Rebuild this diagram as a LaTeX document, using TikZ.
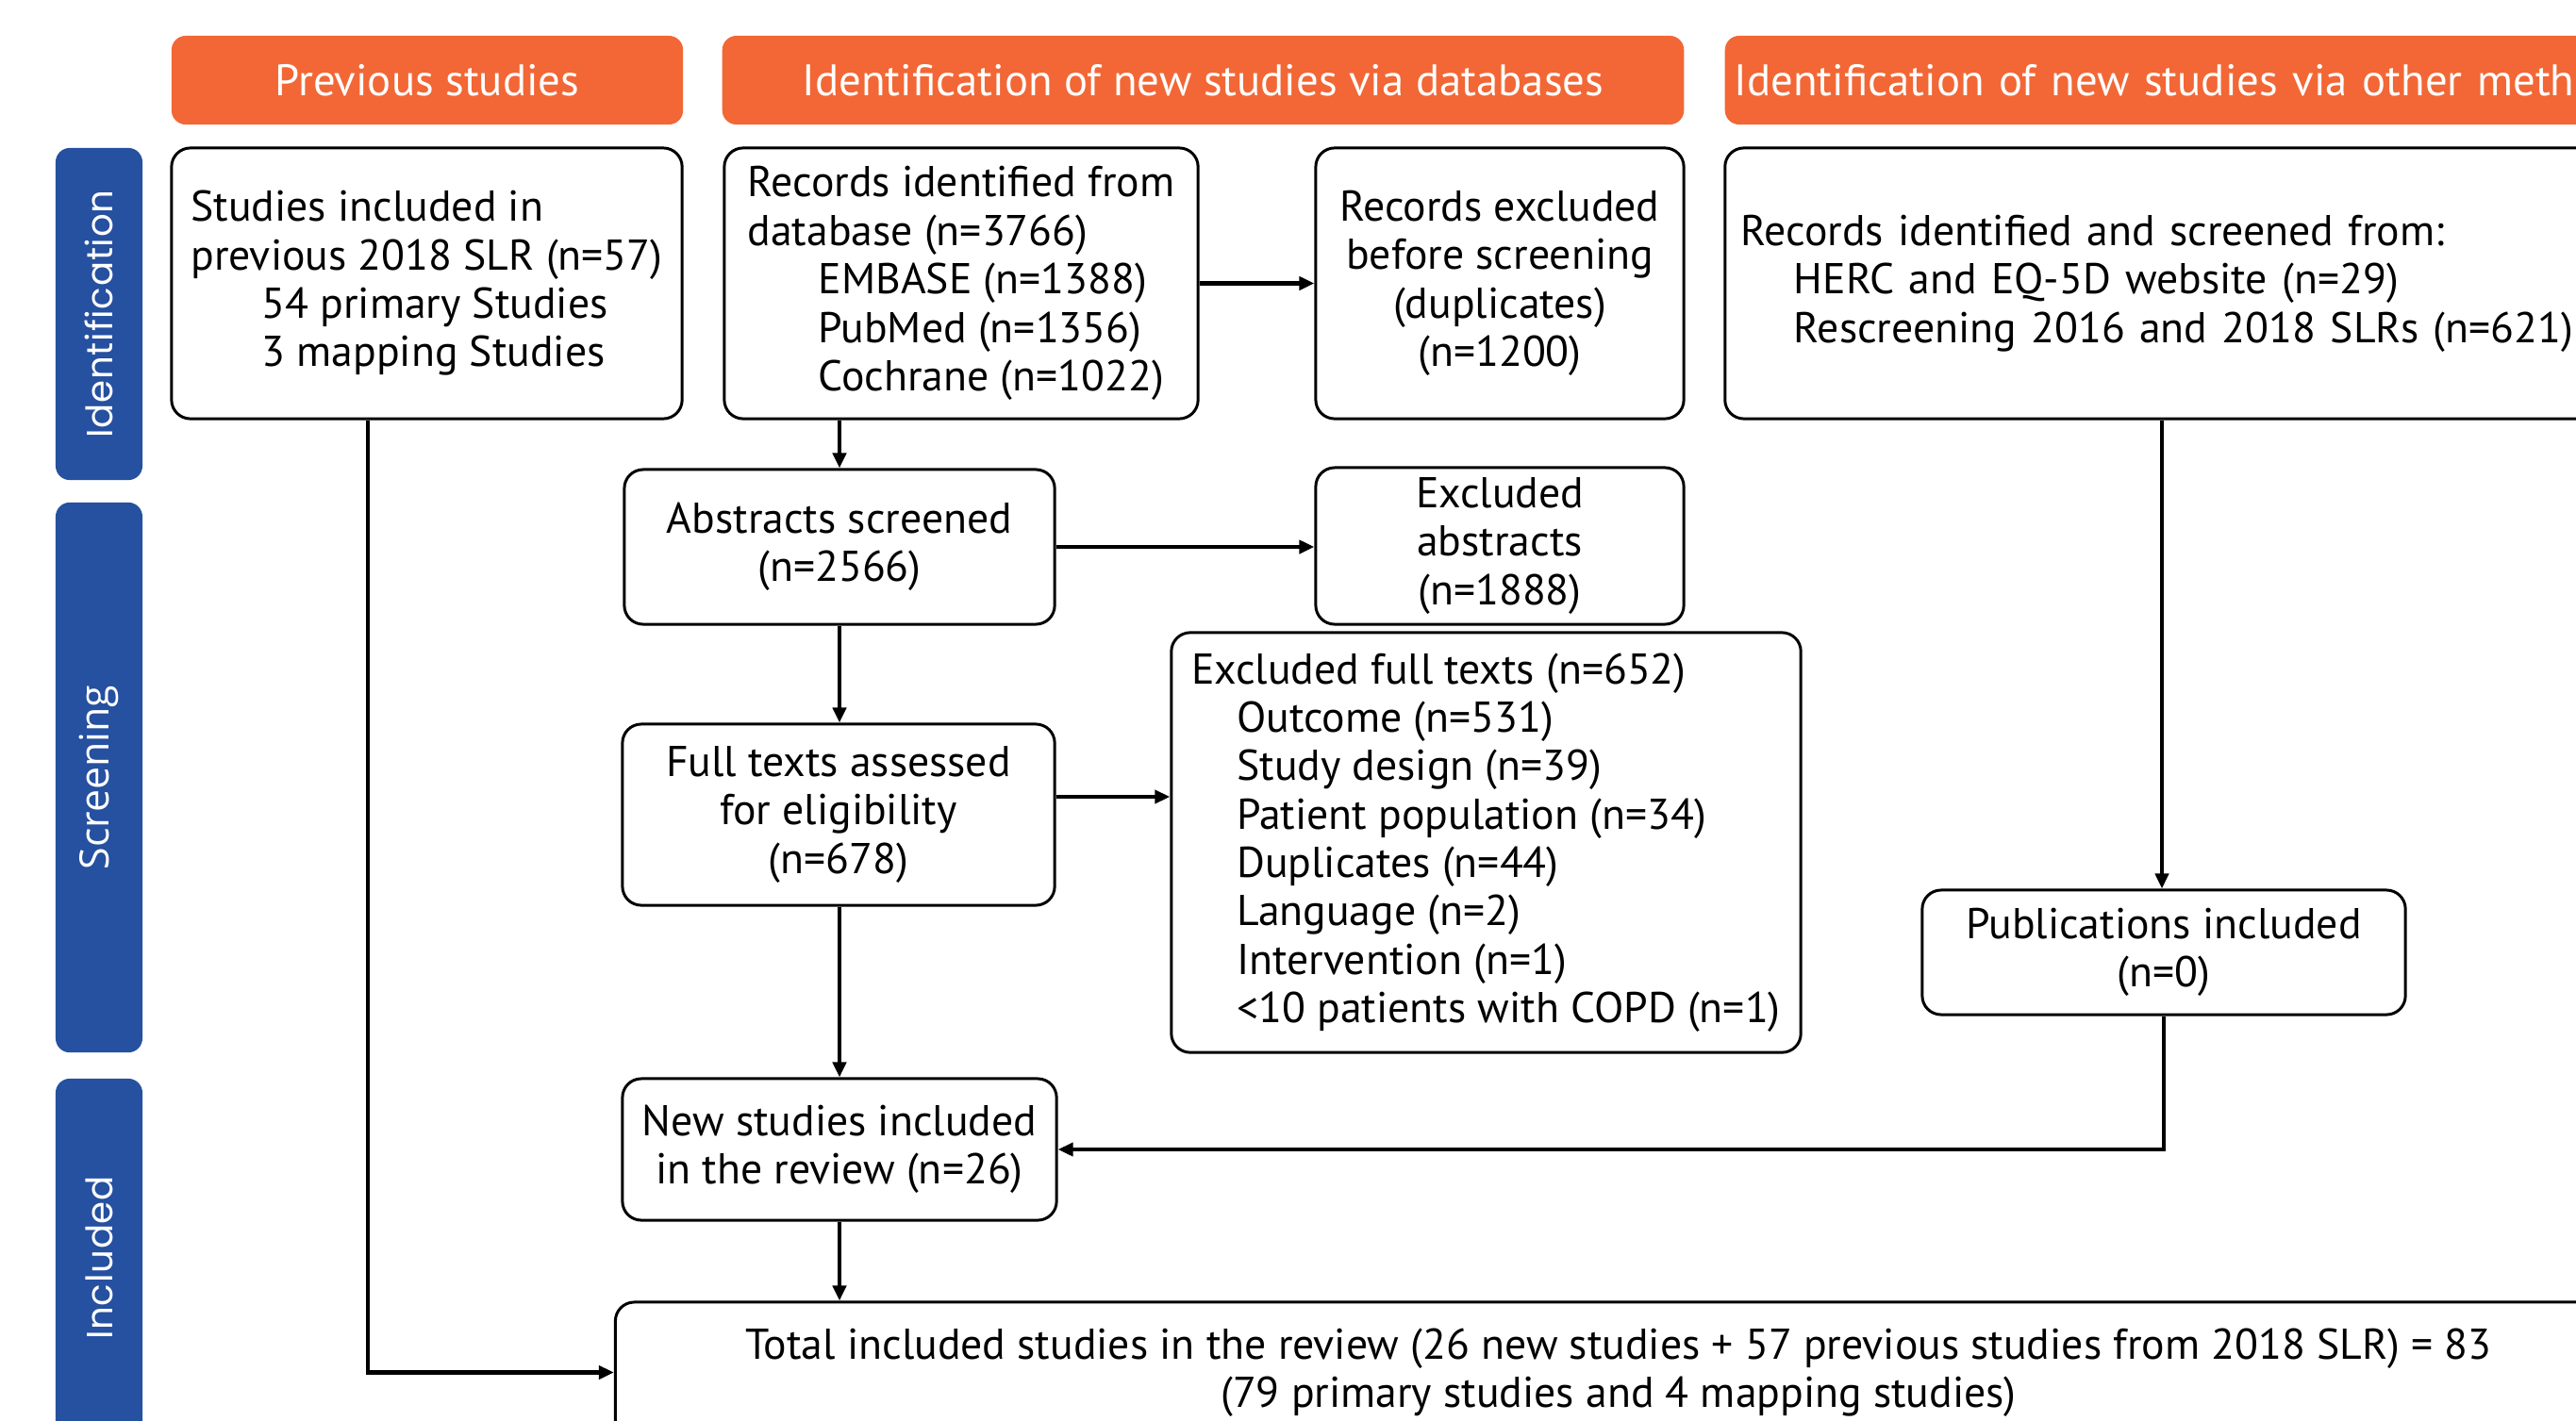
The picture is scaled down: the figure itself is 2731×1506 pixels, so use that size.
\documentclass[tikz,border=0pt]{standalone}
\usepackage{fontspec}
\setmainfont{PT Sans}
\newfontfamily\sidefont{Poppins}[LetterSpace=2]
\newfontfamily\scrfont{Open Sans}
\usetikzlibrary{arrows.meta}
\definecolor{hdrorange}{RGB}{242,103,53}
\definecolor{sideblue}{RGB}{38,80,160}
\newcommand\bodyfont{\fontsize{13pt}{14.6pt}\selectfont}
\newcommand\hdrfont{\fontsize{13.3pt}{14.6pt}\selectfont}
\newcommand\indA{\hspace*{0.75cm}}
\newcommand\indB{\hspace*{0.56cm}}
\newcommand\indC{\hspace*{0.48cm}}
\begin{document}
\begin{tikzpicture}[x=0.01cm,y=-0.01cm,
  box/.style={draw, rounded corners=0.2cm, line width=0.85pt, font=\bodyfont, inner sep=0pt, align=center},
  hdr/.style={fill=hdrorange, rounded corners=0.15cm, text=white, font=\hdrfont, minimum height=0.94cm, inner sep=0pt},
  side/.style={fill=sideblue, rounded corners=0.15cm, text=white, rotate=90, minimum height=0.92cm, inner sep=0pt},
  arr/.style={line width=1.2pt, -{Triangle[length=0.16cm,width=0.14cm]}},
  conn/.style={line width=1.2pt}]
\useasboundingbox (0,0) rectangle (2731,1506);
\clip (0,0) rectangle (2731,1506);
\fill[white] (0,0) rectangle (2731,1506);

% headers
\node[hdr, minimum width=5.42cm] (h1) at (453,85) {Previous studies};
\node[hdr, minimum width=10.19cm] (h2) at (1275.5,85) {Identification of new studies via databases};
\node[hdr, minimum width=10.0cm, text width=9.8cm, align=left] (h3) at (2329,85) {Identification of new studies via other methods};

% side labels
\node[side, minimum width=3.52cm, font=\sidefont\fontsize{11pt}{14pt}\selectfont] (s1) at (105,333) {Identification};
\node[side, minimum width=5.83cm, font=\scrfont\fontsize{12.2pt}{14pt}\selectfont] (s2) at (105,824.5) {Screening};
\node[side, minimum width=3.80cm, font=\sidefont\fontsize{11pt}{14pt}\selectfont] (s3) at (105,1334) {Included};

% boxes
\node[box, minimum width=5.41cm, minimum height=2.87cm, align=left] (prev) at (452.5,300.5)
  {Studies included in\\previous 2018 SLR (n=57)\\\indA 54 primary Studies\\\indA 3 mapping Studies};
\node[box, minimum width=5.02cm, minimum height=2.87cm, align=left] (db) at (1019,300.5)
  {Records identified from\\database (n=3766)\\\indA EMBASE (n=1388)\\\indA PubMed (n=1356)\\\indA Cochrane (n=1022)};
\node[box, minimum width=3.90cm, minimum height=2.87cm] (excl) at (1590,300.5)
  {Records excluded\\before screening\\(duplicates)\\(n=1200)};
\node[box, minimum width=9.26cm, minimum height=2.87cm, text width=8.92cm, align=left] (other) at (2292,300.5)
  {Records identified and screened from:\\\indB HERC and EQ-5D website (n=29)\\\indB Rescreening 2016 and 2018 SLRs (n=621)};
\node[box, minimum width=4.56cm, minimum height=1.64cm] (abs) at (890,580)
  {Abstracts screened\\(n=2566)};
\node[box, minimum width=3.90cm, minimum height=1.66cm] (exabs) at (1590,579)
  {Excluded\\abstracts\\(n=1888)};
\node[box, minimum width=4.58cm, minimum height=1.92cm] (full) at (889,864)
  {Full texts assessed\\for eligibility\\(n=678)};
\node[box, minimum width=6.67cm, minimum height=4.45cm, align=left] (exfull) at (1575.5,893.5)
  {Excluded full texts (n=652)\\\indC Outcome (n=531)\\\indC Study design (n=39)\\\indC Patient population (n=34)\\\indC Duplicates (n=44)\\\indC Language (n=2)\\\indC Intervention (n=1)\\\indC <10 patients with COPD (n=1)};
\node[box, minimum width=5.12cm, minimum height=1.32cm] (pub) at (2294,1010)
  {Publications included\\(n=0)};
\node[box, minimum width=4.60cm, minimum height=1.50cm] (new) at (890,1219)
  {New studies included\\in the review (n=26)};
\node[box, minimum width=21.26cm, minimum height=1.49cm] (total) at (1716,1455.5)
  {Total included studies in the review (26 new studies + 57 previous studies from 2018 SLR) = 83\\(79 primary studies and 4 mapping studies)};

% connectors
\draw[arr] (db) -- (excl);
\draw[arr] (abs.north |- db.south) -- (abs.north);
\draw[arr] (abs.east) -- (exabs.west |- abs.east);
\draw[arr] (abs.south) -- (full.north -| abs.south);
\coordinate (fa) at ([yshift=0.19cm]full.east);
\draw[arr] (fa) -- (fa -| exfull.west);
\draw[arr] (full.south -| new.north) -- (new.north);
\draw[arr] (new.south) -- (total.north -| new.south);
\coordinate (pa) at ([xshift=-0.625cm]prev.south);
\draw[arr] (pa) |- (total.west);
\draw[arr] (other.south) -- (other.south |- pub.north);
\draw[arr] (pub.south) |- (new.east);
\end{tikzpicture}
\end{document}
